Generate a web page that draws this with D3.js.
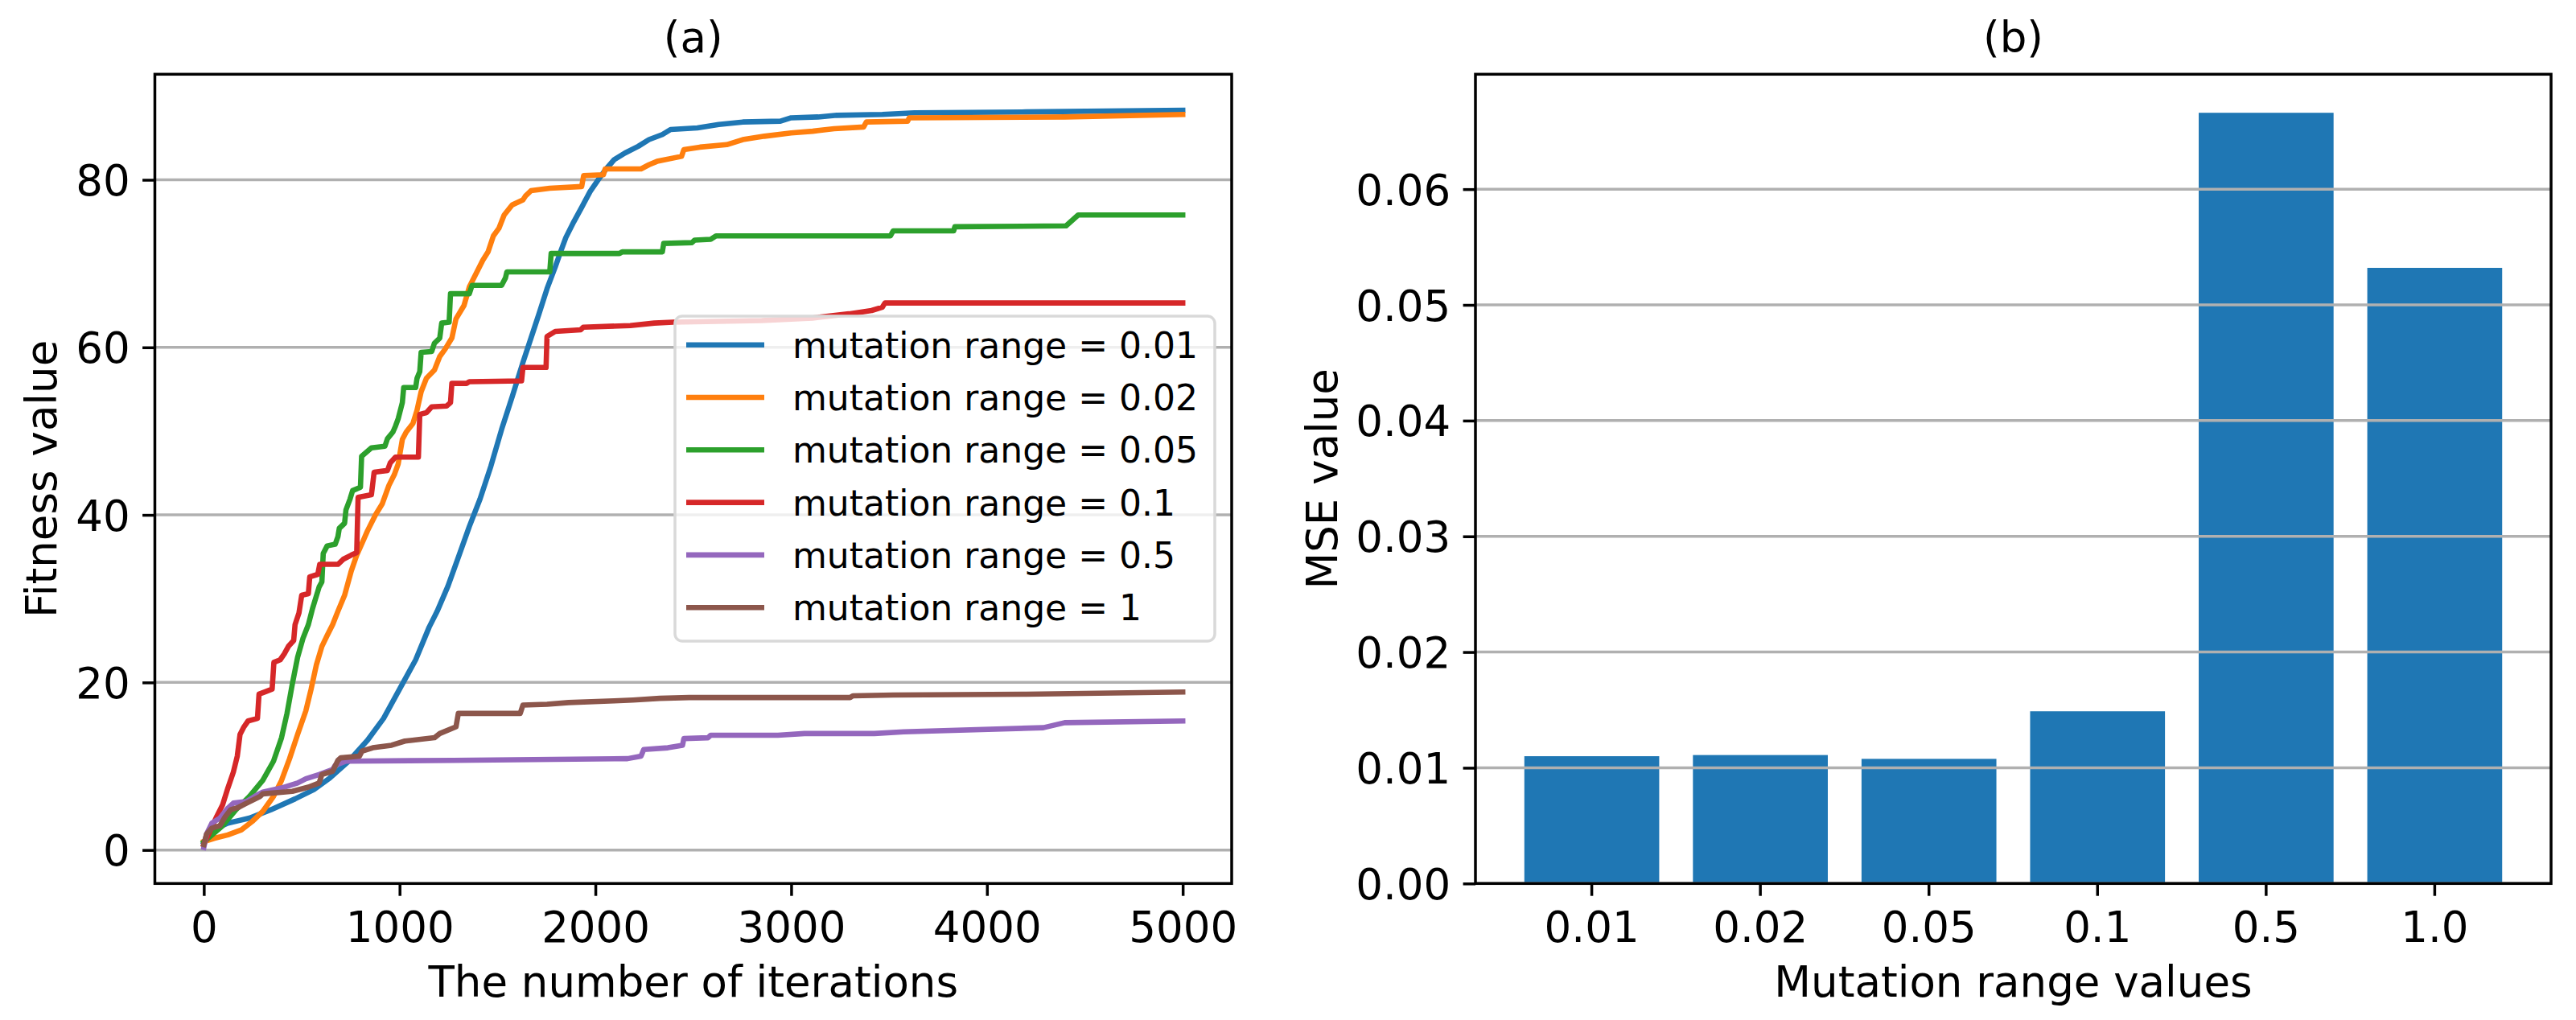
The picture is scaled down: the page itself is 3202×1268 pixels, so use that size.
<!DOCTYPE html>
<html>
    <head>
        <title>Mutation range</title>
        <meta charset="UTF-8">
        <script src="https://d3js.org/d3.v7.min.js"></script>
        <style>
            body { margin: 0; background: #ffffff; }
            text { font-family: "DejaVu Sans", sans-serif; fill: #000; }
        </style>
    </head>
    <body>
        <script>
            // ---- data ----
            var seriesNames = ["mutation range = 0.01", "mutation range = 0.02", "mutation range = 0.05",
                               "mutation range = 0.1", "mutation range = 0.5", "mutation range = 1"];
            var seriesColors = ["#1f77b4", "#ff7f0e", "#2ca02c", "#d62728", "#9467bd", "#8c564b"];

            // [iteration, fitness]
            var range001 = [[0,0.9],[27,2.2],[123,3.2],[233,3.8],[342,4.8],[466,6.1],[562,7.2],[644,8.6],[740,10.6],
                [836,13.1],[918,15.7],[1000,19.2],[1082,22.7],[1151,26.6],[1192,28.5],[1247,31.5],[1301,35.0],
                [1356,38.6],[1411,41.9],[1466,45.8],[1521,50.2],[1575,54.1],[1630,58.2],[1671,61.1],[1712,64.0],
                [1753,67.0],[1795,69.6],[1822,71.4],[1849,73.1],[1890,75.0],[1932,76.8],[1973,78.6],[2014,80.0],
                [2055,81.3],[2096,82.4],[2151,83.2],[2219,84.0],[2274,84.8],[2342,85.4],[2384,86.0],[2521,86.2],
                [2630,86.6],[2753,86.9],[2945,87.0],[3000,87.4],[3137,87.5],[3233,87.7],[3466,87.8],[3630,88.0],
                [4200,88.1],[5000,88.3]];
            var range002 = [[0,1.0],[55,1.4],[123,1.8],[192,2.4],[247,3.4],[301,4.6],[356,6.4],[397,8.3],[438,10.9],
                [479,13.8],[521,16.6],[548,19.2],[575,22.1],[603,24.3],[630,25.6],[658,26.9],[685,28.5],[719,30.4],
                [753,33.3],[781,35.2],[808,36.6],[836,38.1],[877,40.0],[911,41.3],[945,43.5],[973,44.8],[993,46.1],
                [1014,49.0],[1034,49.9],[1068,50.9],[1089,52.5],[1110,54.7],[1137,56.3],[1178,57.3],[1205,58.9],
                [1233,59.8],[1267,61.1],[1288,63.4],[1329,65.0],[1356,67.2],[1397,69.1],[1425,70.4],[1452,71.4],
                [1479,73.3],[1507,74.2],[1534,75.8],[1575,77.0],[1630,77.6],[1644,78.1],[1671,78.7],[1767,79.0],
                [1930,79.2],[1940,80.5],[2041,80.6],[2050,81.3],[2233,81.3],[2274,81.8],[2315,82.2],[2440,82.8],
                [2452,83.6],[2534,83.9],[2671,84.2],[2753,84.8],[2863,85.2],[3000,85.6],[3110,85.8],[3219,86.1],
                [3370,86.3],[3384,86.9],[3595,87.0],[3603,87.4],[4400,87.5],[5000,87.8]];
            var range005 = [[0,0.96],[96,2.9],[164,4.8],[233,6.4],[301,8.3],[356,10.6],[397,13.4],[425,16.3],
                [452,19.8],[479,23.0],[507,25.3],[534,26.9],[555,28.8],[589,31.4],[603,32.0],[610,35.4],[630,36.3],
                [671,36.5],[685,37.4],[692,38.4],[719,39.0],[726,40.6],[747,41.9],[760,42.9],[800,43.3],[806,47.0],
                [856,48.0],[925,48.2],[938,49.1],[966,49.9],[979,50.6],[993,51.5],[1014,53.4],[1021,55.2],
                [1082,55.2],[1089,56.3],[1103,57.1],[1110,59.4],[1164,59.5],[1178,60.5],[1205,61.1],[1215,62.9],
                [1253,63.0],[1260,66.4],[1356,66.4],[1370,67.4],[1521,67.4],[1541,68.3],[1548,69.0],[1767,69.0],
                [1774,71.2],[2123,71.2],[2137,71.4],[2342,71.4],[2349,72.4],[2493,72.5],[2507,72.8],[2589,72.9],
                [2616,73.3],[3507,73.3],[3521,73.9],[3830,73.9],[3836,74.4],[4404,74.5],[4466,75.8],[5000,75.8]];
            var range01 = [[0,0.64],[62,3.8],[96,5.4],[123,7.4],[151,9.3],[171,11.2],[185,13.8],[205,14.7],
                [226,15.4],[274,15.7],[282,18.6],[315,18.9],[349,19.2],[358,22.4],[390,22.7],[411,23.4],[432,24.3],
                [459,25.0],[466,26.9],[486,28.3],[500,30.4],[534,30.6],[541,32.6],[582,32.9],[592,34.1],[685,34.1],
                [712,34.7],[753,35.2],[781,35.5],[788,42.1],[856,42.4],[870,45.1],[938,45.3],[952,46.2],[979,46.9],
                [1096,46.9],[1103,52.0],[1137,52.2],[1164,52.9],[1240,53.0],[1260,53.4],[1267,55.7],[1342,55.7],
                [1356,55.9],[1623,56.0],[1630,57.6],[1748,57.6],[1753,61.3],[1795,61.9],[1925,62.1],[1938,62.4],
                [2178,62.6],[2301,62.9],[2397,63.0],[2849,63.2],[3110,63.5],[3295,64.0],[3411,64.4],[3466,64.8],
                [3479,65.3],[5000,65.3]];
            var range05 = [[0,0.3],[14,1.9],[41,3.2],[82,3.8],[123,5.0],[151,5.6],[219,5.8],[260,6.4],[301,6.9],
                [397,7.4],[479,8.0],[521,8.5],[589,9.0],[658,9.6],[671,10.1],[726,10.6],[1274,10.7],[2164,10.9],
                [2233,11.2],[2247,12.0],[2370,12.2],[2445,12.5],[2452,13.3],[2575,13.4],[2589,13.7],[2932,13.7],
                [3068,13.9],[3425,13.9],[3575,14.1],[4288,14.6],[4397,15.2],[5000,15.4]];
            var range1 = [[0,0.64],[14,1.9],[41,2.6],[82,2.9],[110,4.0],[137,4.8],[178,5.1],[219,5.6],[288,6.4],
                [301,6.7],[452,7.0],[534,7.5],[589,8.0],[603,9.0],[658,9.4],[685,10.7],[699,11.0],[795,11.2],
                [808,11.8],[863,12.2],[959,12.5],[1027,13.0],[1178,13.4],[1205,13.9],[1288,14.7],[1300,16.3],
                [1616,16.3],[1630,17.3],[1753,17.4],[1863,17.6],[2096,17.8],[2192,17.9],[2329,18.1],[2479,18.2],
                [3301,18.2],[3315,18.4],[3521,18.5],[4200,18.6],[5000,18.85]];
            var fitnessSeries = [range001, range002, range005, range01, range05, range1];

            var iterTicks = [0, 1000, 2000, 3000, 4000, 5000];
            var fitnessTicks = [0, 20, 40, 60, 80];

            var barCategories = ["0.01", "0.02", "0.05", "0.1", "0.5", "1.0"];
            var mseValues = [0.0110, 0.0111, 0.01077, 0.01488, 0.0666, 0.0532];
            var mseTicks = [0, 0.01, 0.02, 0.03, 0.04, 0.05, 0.06];

            // ---- layout ----
            var W = 3202, H = 1268;
            var tickLen = 15.4, tickPad = 15.4, fontBig = 53, fontLegend = 44;
            var boxA = {left: 192.5, right: 1531, top: 92.3, bottom: 1098.3};
            var boxB = {left: 1834, right: 3171, top: 92.3, bottom: 1098.3};

            var svg = d3.select("body").append("svg")
                .attr("width", W)
                .attr("height", H);

            function styleAxis(g) {
                g.select(".domain").remove();
                g.selectAll(".tick line").attr("stroke", "#000").attr("stroke-width", 3.5);
                g.selectAll(".tick text").attr("font-size", fontBig).attr("font-family", "DejaVu Sans");
            }

            function frame(box) {
                svg.append("rect")
                    .attr("x", box.left).attr("y", box.top)
                    .attr("width", box.right - box.left)
                    .attr("height", box.bottom - box.top)
                    .attr("fill", "none")
                    .attr("stroke", "#000")
                    .attr("stroke-width", 3.5);
            }

            // ================= (a) =================
            var x = d3.scaleLinear().domain([-250, 5250]).range([boxA.left, boxA.right]);
            var y = d3.scaleLinear().domain([-4.0, 92.6]).range([boxA.bottom, boxA.top]);

            svg.append("defs").append("clipPath").attr("id", "clipA")
                .append("rect")
                .attr("x", boxA.left).attr("y", boxA.top)
                .attr("width", boxA.right - boxA.left)
                .attr("height", boxA.bottom - boxA.top);

            svg.append("g").selectAll("line").data(fitnessTicks).enter().append("line")
                .attr("x1", boxA.left).attr("x2", boxA.right)
                .attr("y1", function(d){ return y(d); })
                .attr("y2", function(d){ return y(d); })
                .attr("stroke", "#b0b0b0")
                .attr("stroke-width", 3.5);

            var line = d3.line()
                .x(function(d){ return x(d[0]); })
                .y(function(d){ return y(d[1]); });

            svg.append("g").attr("clip-path", "url(#clipA)")
                .selectAll("path").data(fitnessSeries).enter().append("path")
                .attr("d", line)
                .attr("fill", "none")
                .attr("stroke", function(d, i){ return seriesColors[i]; })
                .attr("stroke-width", 6.6)
                .attr("stroke-linejoin", "round")
                .attr("stroke-linecap", "square");

            var axA = svg.append("g").attr("transform", "translate(0," + boxA.bottom + ")")
                .call(d3.axisBottom(x).tickValues(iterTicks).tickFormat(d3.format("d"))
                    .tickSize(tickLen).tickPadding(tickPad));
            styleAxis(axA);
            axA.selectAll(".tick text").attr("dy", null).attr("y", 1170.7 - boxA.bottom);

            var ayA = svg.append("g").attr("transform", "translate(" + boxA.left + ",0)")
                .call(d3.axisLeft(y).tickValues(fitnessTicks).tickFormat(d3.format("d"))
                    .tickSize(tickLen).tickPadding(tickPad));
            styleAxis(ayA);
            ayA.selectAll(".tick text").attr("dy", "0.36em");

            frame(boxA);

            // legend
            var lg = svg.append("g");
            lg.append("rect")
                .attr("x", 839).attr("y", 393)
                .attr("width", 671).attr("height", 404)
                .attr("rx", 9).attr("ry", 9)
                .attr("fill", "#ffffff").attr("fill-opacity", 0.8)
                .attr("stroke", "#d9d9d9").attr("stroke-width", 3.5);
            var rows = lg.selectAll("g.row").data(seriesNames).enter().append("g")
                .attr("class", "row")
                .attr("transform", function(d, i){ return "translate(0," + (428.7 + i * 65.3) + ")"; });
            rows.append("line")
                .attr("x1", 853).attr("x2", 950)
                .attr("stroke", function(d, i){ return seriesColors[i]; })
                .attr("stroke-width", 6.6);
            rows.append("text")
                .attr("x", 985).attr("y", 16)
                .attr("font-size", fontLegend)
                .text(function(d){ return d; });

            svg.append("text")
                .attr("x", (boxA.left + boxA.right) / 2).attr("y", 65)
                .attr("text-anchor", "middle").attr("font-size", fontBig)
                .text("(a)");
            svg.append("text")
                .attr("x", (boxA.left + boxA.right) / 2).attr("y", 1239)
                .attr("text-anchor", "middle").attr("font-size", fontBig)
                .text("The number of iterations");
            svg.append("text")
                .attr("transform", "translate(70," + (boxA.top + boxA.bottom) / 2 + ") rotate(-90)")
                .attr("text-anchor", "middle").attr("font-size", fontBig)
                .text("Fitness value");

            // ================= (b) =================
            var xb = d3.scaleBand().domain(barCategories).range([boxB.left, boxB.right])
                .paddingInner(0.2).paddingOuter(0.29);
            var yb = d3.scaleLinear().domain([0, 0.06993]).range([boxB.bottom, boxB.top]);

            svg.append("g").selectAll("rect").data(mseValues).enter().append("rect")
                .attr("x", function(d, i){ return xb(barCategories[i]); })
                .attr("width", xb.bandwidth())
                .attr("y", function(d){ return yb(d); })
                .attr("height", function(d){ return yb(0) - yb(d); })
                .attr("fill", "#1f77b4");

            svg.append("g").selectAll("line").data(mseTicks).enter().append("line")
                .attr("x1", boxB.left).attr("x2", boxB.right)
                .attr("y1", function(d){ return yb(d); })
                .attr("y2", function(d){ return yb(d); })
                .attr("stroke", "#b0b0b0")
                .attr("stroke-width", 3.5);

            var axB = svg.append("g").attr("transform", "translate(0," + boxB.bottom + ")")
                .call(d3.axisBottom(xb).tickSize(tickLen).tickPadding(tickPad));
            styleAxis(axB);
            axB.selectAll(".tick text").attr("dy", null).attr("y", 1170.7 - boxB.bottom);

            var ayB = svg.append("g").attr("transform", "translate(" + boxB.left + ",0)")
                .call(d3.axisLeft(yb).tickValues(mseTicks).tickFormat(d3.format(".2f"))
                    .tickSize(tickLen).tickPadding(tickPad));
            styleAxis(ayB);
            ayB.selectAll(".tick text").attr("dy", "0.36em");

            frame(boxB);

            svg.append("text")
                .attr("x", (boxB.left + boxB.right) / 2).attr("y", 65)
                .attr("text-anchor", "middle").attr("font-size", fontBig)
                .text("(b)");
            svg.append("text")
                .attr("x", (boxB.left + boxB.right) / 2).attr("y", 1239)
                .attr("text-anchor", "middle").attr("font-size", fontBig)
                .text("Mutation range values");
            svg.append("text")
                .attr("transform", "translate(1662," + (boxB.top + boxB.bottom) / 2 + ") rotate(-90)")
                .attr("text-anchor", "middle").attr("font-size", fontBig)
                .text("MSE value");
        </script>
    </body>
</html>
